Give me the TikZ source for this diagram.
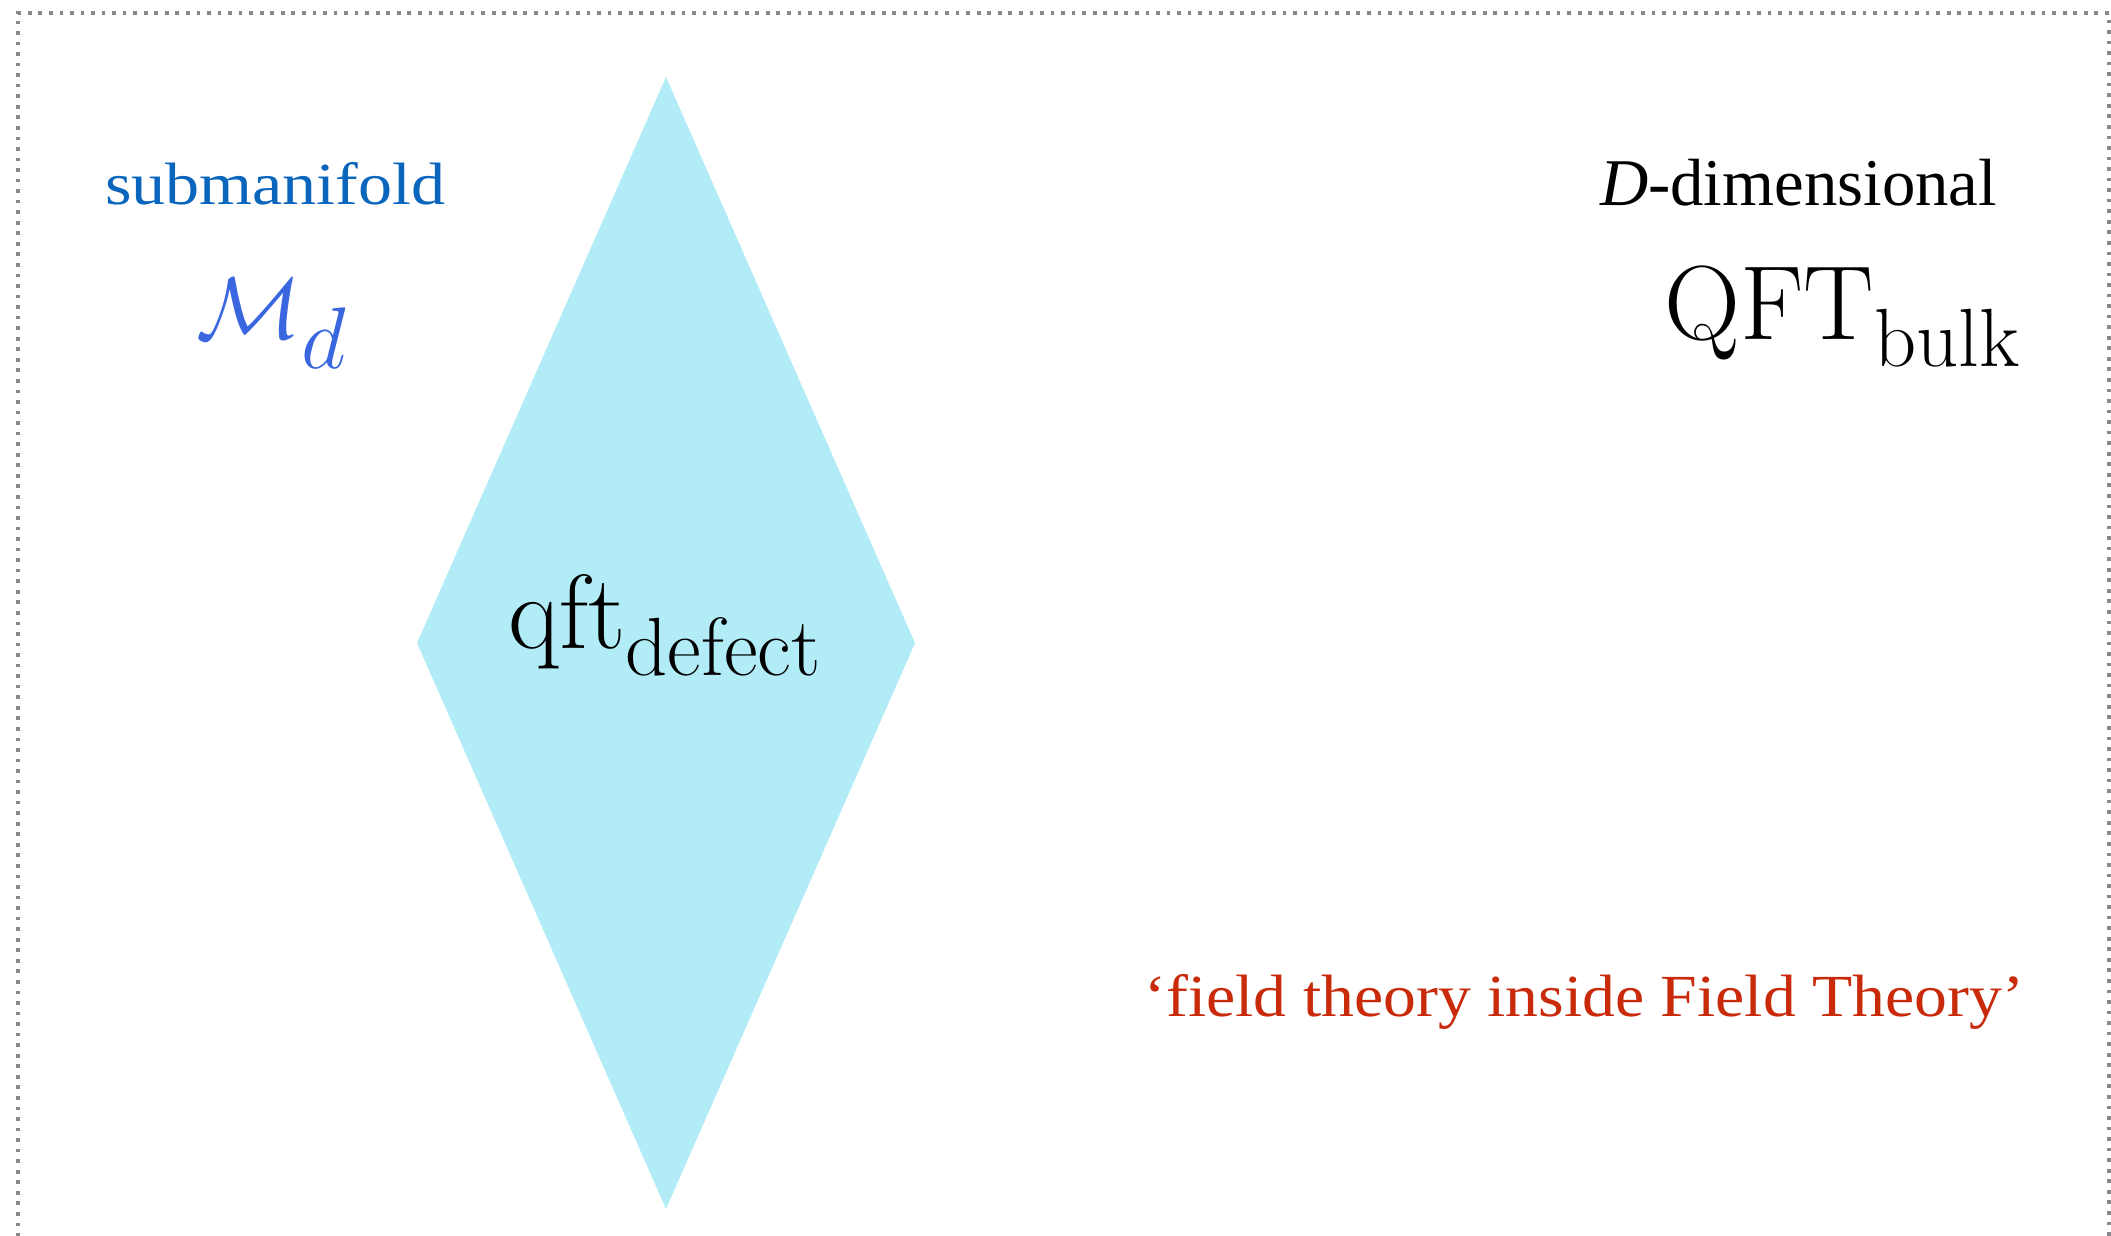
\documentclass[tikz,border=0pt]{standalone}
\usepackage{fontspec}
\newfontfamily\gfont[FakeStretch=1.1]{Liberation Serif}
\newfontfamily\gwidefont[FakeStretch=1.14]{Liberation Serif}
\newfontfamily\tfont{Liberation Serif}
\DeclareMathSizes{30}{30}{23.5}{17}
\usetikzlibrary{positioning}
\definecolor{cblue}{HTML}{0A66BC}
\definecolor{cmblue}{HTML}{3A66E0}
\definecolor{cred}{HTML}{C82A0A}
\definecolor{ccyan}{HTML}{B2ECF7}
\definecolor{cgrey}{HTML}{86888C}
\tikzset{
  every picture/.style={line width=1pt},
  label/.style={inner sep=0pt, outer sep=0pt},
  prose/.style={label, font=\gfont\fontsize{17}{20}\selectfont},
  formula/.style={label, font=\fontsize{30}{34}\selectfont},
  frame/.style={draw=cgrey, line width=1.05pt, dash pattern=on 1.05pt off 1.95pt},
}

\begin{document}
\begin{tikzpicture}
  \useasboundingbox (0,0) rectangle (21.11,-12.35);
  % ---- frame
  \draw[frame] (0.18,-13.0) -- (0.18,-0.13) -- (21.09,-0.13) -- (21.09,-13.0);
  % ---- defect
  \fill[ccyan] (6.66,-0.77) -- (9.15,-6.43) -- (6.66,-12.09) -- (4.17,-6.43) -- cycle;
  \node[formula, anchor=base west] (defect) at (5.08,-6.48) {$\mathrm{qft}_{\mathrm{defect}}$};
  % ---- submanifold
  \node[prose, font=\gwidefont\fontsize{17}{20}\selectfont, text=cblue, anchor=base west] (sub) at (1.05,-2.04) {submanifold};
  \node[formula, text=cmblue, anchor=base west] (mfd) at (1.96,-3.38) {$\mathcal{M}_d$};
  % ---- bulk
  \node[label, font=\tfont\fontsize{19}{22}\selectfont, anchor=base east] (dim) at (19.97,-2.05) {\textit{D}-dimensional};
  \node[formula, anchor=base east] (bulk) at (20.21,-3.39) {$\mathrm{QFT}_{\mathrm{bulk}}$};
  \node[prose, text=cred, anchor=base east] (slogan) at (20.24,-10.16) {‘field theory inside Field Theory’};
\end{tikzpicture}
\end{document}
